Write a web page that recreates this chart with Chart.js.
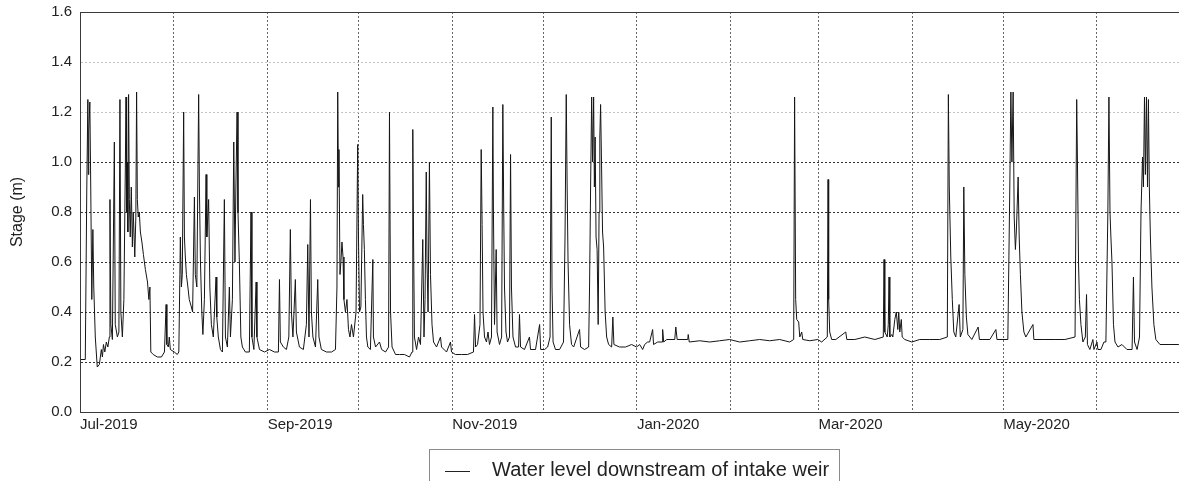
<!DOCTYPE html>
<html>
<head>
<meta charset="utf-8">
<script src="https://cdn.jsdelivr.net/npm/chart.js@4/dist/chart.umd.min.js"></script>
<style>
  html, body { margin: 0; padding: 0; background: #fff; }
  canvas { display: block; }
</style>
</head>
<body>
<canvas id="chart" width="1179" height="481"></canvas>
<script>
// days since startDate, and stage (m)
const startDate = '2019-07-01'
const seriesLabel = 'Water level downstream of intake weir'

const days = [
  0,1.75,2.25,2.6,2.75,2.9,3.25,3.55,3.9,4.25,4.55,5.05,
  5.7,6.4,7.05,7.4,7.75,8.2,8.7,9.2,9.7,9.9,10.2,10.7,
  11.35,11.65,12.35,12.85,13.2,13.5,14.0,14.5,15.0,15.2,15.4,15.65,
  15.8,16.05,16.3,16.6,16.95,17.3,17.6,18.1,18.45,18.7,18.95,19.25,
  19.6,19.95,20.45,20.95,21.6,22.3,22.75,23.1,23.4,24.2,25.55,26.9,
  27.9,28.45,28.7,29.2,29.5,29.85,31.15,32.15,32.65,
  33.0,33.15,33.5,33.8,34.25,34.5,34.8,35.15,35.65,36.1,36.8,37.2,
  37.8,38.1,38.6,39.2,39.45,39.8,40.25,40.6,41.1,41.65,41.9,42.5,
  42.9,43.4,44.05,44.95,45.2,45.7,46.4,47.05,47.7,48.05,48.7,49.35,
  49.7,50.35,50.8,51.2,51.5,51.9,52.2,52.65,53.15,53.65,54.65,55.95,
  56.5,56.8,57.45,58.2,58.45,59.3,60.95,62.6,64.25,65.55,65.9,66.2,
  67.2,68.2,69.0,69.5,69.85,70.35,71.15,71.5,72.5,73.8,74.8,75.25,
  75.65,76.15,76.45,76.95,77.8,78.55,78.95,79.75,81.45,83.1,84.4,84.9,
  85.15,85.4,85.55,85.9,86.2,86.55,86.9,87.2,87.7,88.2,88.7,89.2,
  89.7,90.35,91.2,91.75,92.0,92.35,92.8,93.4,93.65,93.95,94.3,94.65,
  95.1,95.95,96.75,96.95,97.65,98.95,99.65,100.95,101.95,102.25,102.6,103.1,
  104.25,105.55,107.2,108.85,109.7,109.95,110.2,110.5,111.2,111.85,112.5,113.25,
  113.65,114.0,114.4,114.65,115.0,115.45,115.8,116.3,116.8,117.8,119.1,119.45,
  121.1,122.4,122.75,124.05,126.05,128.05,130.0,130.35,130.7,131.35,132.15,132.55,
  132.85,133.15,133.65,134.3,134.8,135.3,135.95,136.4,136.6,136.95,137.5,137.8,
  138.6,139.3,139.7,140.0,140.25,140.75,141.25,141.9,142.25,142.55,143.05,143.9,
  144.9,145.2,145.55,146.85,148.5,148.85,150.5,151.85,152.2,153.5,154.5,155.3,
  155.7,155.95,156.3,157.1,158.45,159.75,160.25,160.65,160.95,161.25,161.75,162.4,
  163.1,165.05,165.4,166.7,168.05,168.35,168.7,169.05,169.35,169.7,169.95,170.2,
  170.5,170.85,171.2,171.5,171.75,172.0,172.3,172.65,173.0,173.5,174.0,174.65,
  175.65,176.05,176.4,178.25,180.25,182.25,
  183.9,184.9,185.9,186.55,187.55,188.2,189.2,189.5,190.85,192.35,192.5,192.85,
  193.85,196.5,196.85,197.3,200.8,200.95,201.3,204.75,208.05,211.35,214.65,217.95,
  221.25,224.55,227.85,231.15,234.45,235.8,236.1,236.45,236.8,237.45,237.8,238.45,
  238.8,241.1,243.75,245.05,246.9,247.15,247.35,247.7,248.35,249.7,253.0,253.35,
  256.0,259.3,262.6,265.4,265.65,265.9,266.7,267.05,267.3,267.55,268.2,268.55,
  269.2,269.7,270.2,270.5,270.85,271.35,271.65,272.5,274.8,277.45,280.75,284.05,
  286.55,286.9,287.2,287.7,288.2,288.7,289.35,290.45,290.85,291.7,292.0,292.35,
  292.85,293.35,294.65,296.75,297.15,300.6,302.6,302.95,306.55,307.2,307.55,307.9,
  308.3,308.65,309.05,309.35,309.95,310.3,310.7,311.2,311.85,312.5,314.85,315.15,
  318.8,322.1,325.4,328.75,329.3,329.55,329.9,330.2,330.7,331.35,332.15,332.55,
  332.85,333.65,334.65,335.0,336.0,336.3,337.3,338.3,338.95,339.6,339.95,340.3,
  340.6,340.95,341.45,341.95,342.95,344.25,345.9,347.6,348.05,348.4,349.25,350.05,
  350.55,351.05,351.35,351.7,352.0,352.35,352.7,353.0,353.3,353.65,354.15,354.8,
  355.45,356.8,360.1,363.05
]

const stage = [
  0.21,0.21,0.9,1.25,0.95,1.12,1.24,0.9,0.45,0.73,0.5,0.3,
  0.18,0.19,0.25,0.22,0.27,0.24,0.28,0.26,0.3,0.85,0.35,0.29,
  1.08,0.35,0.3,0.32,1.25,0.4,0.3,0.45,1.0,1.26,0.8,1.0,
  0.72,1.27,0.85,0.7,0.9,0.66,0.8,0.62,0.78,1.28,0.85,0.78,
  0.8,0.72,0.68,0.63,0.57,0.52,0.45,0.5,0.24,0.23,0.22,0.22,
  0.24,0.43,0.27,0.26,0.3,0.25,0.24,0.23,0.24,
  0.55,0.7,0.5,0.55,1.2,0.7,0.62,0.55,0.5,0.45,0.42,0.4,
  0.86,0.55,0.5,1.27,0.9,0.6,0.4,0.31,0.45,0.95,0.7,0.85,
  0.5,0.35,0.3,0.54,0.38,0.3,0.25,0.24,0.85,0.3,0.26,0.5,
  0.3,0.45,1.08,0.6,0.9,1.2,0.8,0.6,0.3,0.26,0.24,0.24,
  0.8,0.3,0.25,0.52,0.3,0.25,0.24,0.25,0.24,0.24,0.53,0.28,
  0.26,0.25,0.3,0.73,0.4,0.3,0.53,0.32,0.26,0.25,0.35,0.67,
  0.3,0.85,0.4,0.3,0.26,0.53,0.3,0.25,0.24,0.24,0.25,0.5,
  1.28,0.9,1.05,0.55,0.6,0.68,0.62,0.45,0.4,0.45,0.33,0.3,
  0.35,0.3,0.4,1.07,0.7,0.4,0.42,0.87,0.75,0.65,0.45,0.3,
  0.26,0.25,0.61,0.3,0.26,0.28,0.25,0.24,0.26,1.2,0.4,0.26,
  0.23,0.23,0.23,0.22,0.24,1.13,0.7,0.3,0.25,0.3,0.27,0.69,
  0.3,0.45,0.96,0.6,0.4,1.0,0.55,0.35,0.28,0.26,0.3,0.26,
  0.24,0.28,0.24,0.23,0.23,0.23,0.24,0.39,0.26,0.27,0.35,1.05,
  0.75,0.4,0.3,0.28,0.32,0.27,0.3,1.22,0.8,0.35,0.65,0.32,
  0.27,0.3,1.23,0.8,0.5,0.32,0.28,0.3,1.03,0.5,0.3,0.26,
  0.26,0.39,0.26,0.25,0.3,0.25,0.25,0.35,0.25,0.25,0.26,0.3,
  1.18,0.5,0.28,0.25,0.25,0.28,0.7,1.27,0.9,0.6,0.35,0.27,
  0.26,0.33,0.26,0.25,0.26,0.5,0.9,1.26,1.0,1.26,0.9,1.1,
  0.7,0.65,0.35,0.8,1.1,1.23,1.0,0.72,0.66,0.4,0.3,0.27,
  0.26,0.38,0.27,0.26,0.26,0.27,
  0.26,0.27,0.25,0.27,0.28,0.28,0.33,0.27,0.28,0.28,0.33,0.28,
  0.29,0.29,0.34,0.29,0.29,0.31,0.28,0.285,0.28,0.285,0.29,0.28,
  0.285,0.29,0.285,0.29,0.28,0.29,1.26,0.45,0.37,0.36,0.3,0.32,
  0.29,0.285,0.29,0.28,0.3,0.93,0.45,0.32,0.29,0.29,0.32,0.29,
  0.29,0.3,0.29,0.3,0.61,0.32,0.3,0.35,0.54,0.3,0.31,0.3,
  0.37,0.4,0.33,0.4,0.32,0.37,0.3,0.29,0.28,0.29,0.29,0.29,
  0.3,1.27,0.9,0.62,0.45,0.32,0.3,0.43,0.3,0.33,0.9,0.55,
  0.38,0.31,0.29,0.34,0.29,0.29,0.33,0.29,0.29,0.9,1.28,1.0,
  1.28,0.78,0.65,0.72,0.94,0.7,0.55,0.4,0.32,0.3,0.35,0.29,
  0.29,0.29,0.29,0.3,1.25,1.0,0.6,0.45,0.35,0.28,0.3,0.47,
  0.27,0.25,0.29,0.25,0.28,0.25,0.25,0.28,0.28,0.8,1.26,0.8,
  0.7,0.6,0.35,0.28,0.26,0.27,0.25,0.25,0.54,0.28,0.25,0.3,
  0.8,1.02,0.9,1.26,0.95,1.26,0.9,1.25,0.9,0.7,0.5,0.35,
  0.29,0.27,0.27,0.27
]

// x axis: a grid line at every month, a label every second month
const monthStarts = ['2019-07-01','2019-08-01','2019-09-01','2019-10-01','2019-11-01','2019-12-01',
  '2020-01-01','2020-02-01','2020-03-01','2020-04-01','2020-05-01','2020-06-01']
const monthLabels = ['Jul-2019','','Sep-2019','','Nov-2019','','Jan-2020','','Mar-2020','','May-2020','']
const xEnd = 363.1

const dayOf = (s) => (Date.parse(s) - Date.parse(startDate)) / 86400000
const monthTicks = monthStarts.map(dayOf)

const FONT = "'Liberation Sans', Arial, sans-serif"

// frame + boxed legend
const framePlugin = {
  id: 'frame',
  afterDraw(chart) {
    const { ctx, chartArea: a } = chart
    ctx.save()
    ctx.strokeStyle = '#3a3a3a'
    ctx.lineWidth = 1
    ctx.strokeRect(Math.round(a.left) + 0.5, Math.round(a.top) + 0.5,
      Math.round(a.right - a.left), Math.round(a.bottom - a.top))

    // legend box
    ctx.strokeStyle = '#8a8a8a'
    ctx.strokeRect(429.5, 449.5, 410, 50)
    ctx.strokeStyle = '#222'
    ctx.beginPath()
    ctx.moveTo(445, 471.5)
    ctx.lineTo(470, 471.5)
    ctx.stroke()
    ctx.fillStyle = '#222'
    ctx.font = '20px ' + FONT
    ctx.textBaseline = 'middle'
    ctx.textAlign = 'left'
    ctx.fillText(chart.data.datasets[0].label, 492, 470)
    ctx.restore()
  }
}

new Chart(document.getElementById('chart'), {
  type: 'line',
  data: {
    datasets: [
      {
        label: seriesLabel,
        data: days.map((d, i) => ({ x: d, y: stage[i] })),
        borderColor: '#151515',
        borderWidth: 1,
        pointRadius: 0,
        tension: 0
      }
    ]
  },
  options: {
    responsive: false,
    animation: false,
    devicePixelRatio: 1,
    layout: { padding: { top: 12, left: 0, right: 0, bottom: 0 } },
    plugins: {
      legend: { display: false },
      tooltip: { enabled: false }
    },
    scales: {
      x: {
        type: 'linear',
        min: 0,
        max: xEnd,
        afterBuildTicks: (axis) => {
          axis.ticks = monthTicks.map((v) => ({ value: v }))
        },
        afterFit: (axis) => {
          axis.height = 69
          axis.paddingLeft = 0
          axis.paddingRight = 0
        },
        ticks: {
          autoSkip: false,
          maxRotation: 0,
          align: 'start',
          padding: 4,
          color: '#222',
          font: { family: FONT, size: 15 },
          callback: (v, i) => monthLabels[i]
        },
        grid: { color: '#666', lineWidth: 1, drawTicks: false },
        border: { color: '#3a3a3a', dash: [2, 2] }
      },
      y: {
        min: 0,
        max: 1.6,
        afterFit: (axis) => {
          axis.width = 80
          axis.paddingTop = 0
          axis.paddingBottom = 0
        },
        ticks: {
          stepSize: 0.2,
          padding: 8,
          color: '#222',
          font: { family: FONT, size: 15 },
          callback: (v) => v.toFixed(1)
        },
        grid: {
          drawTicks: false,
          color: (c) => (c.tick && c.tick.value > 1.1 ? '#c4c4c4' : '#333')
        },
        border: { color: '#3a3a3a', dash: [2, 2] },
        title: {
          display: true,
          text: 'Stage (m)',
          color: '#222',
          font: { family: FONT, size: 16 },
          padding: { top: 8, bottom: 0 }
        }
      }
    }
  },
  plugins: [framePlugin]
})
</script>
</body>
</html>
